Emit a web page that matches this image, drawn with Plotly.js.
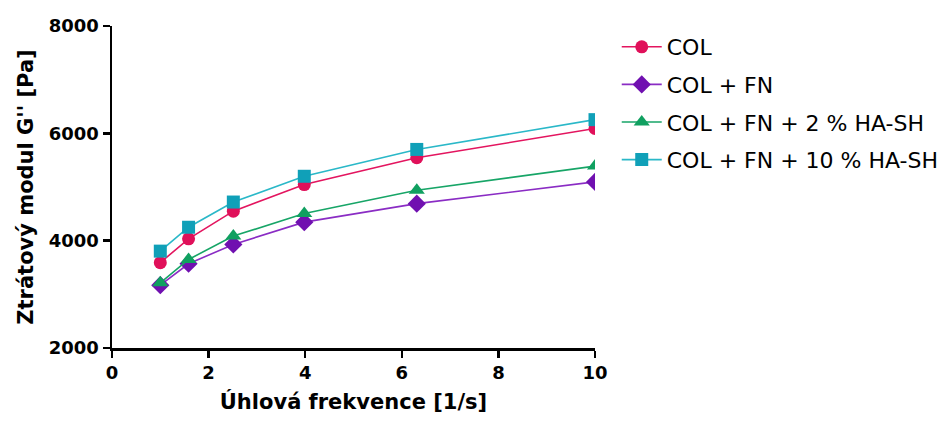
<!DOCTYPE html>
<html>
<head>
<meta charset="utf-8">
<script src="https://cdn.plot.ly/plotly-3.0.1.min.js"></script>
<style>html,body{margin:0;padding:0;background:#fff;}#chart{width:947px;height:421px;}</style>
</head>
<body>
<div id="chart"></div>
<script>
const frequency = [1, 1.585, 2.512, 3.981, 6.31, 10];
const seriesNames = ["COL", "COL + FN", "COL + FN + 2 % HA-SH", "COL + FN + 10 % HA-SH"];
const colValues = [3590, 4035, 4550, 5045, 5545, 6090];
const colFnValues = [3170, 3570, 3930, 4345, 4690, 5095];
const colFn2Values = [3215, 3650, 4085, 4505, 4940, 5390];
const colFn10Values = [3805, 4250, 4720, 5200, 5700, 6255];
const xTicks = [0, 2, 4, 6, 8, 10];
const yTicks = [2000, 4000, 6000, 8000];

const lineColors = ["#e3155f", "#8a2cc4", "#17a567", "#2ab8c8"];
const markerColors = ["#e0105a", "#7010b0", "#10a060", "#10a0b8"];
const symbols = ["circle", "diamond", "triangle-up", "square"];
const sizes = [13, 14, 14, 13];
const values = [colValues, colFnValues, colFn2Values, colFn10Values];

const traces = values.map((v, i) => ({
  x: frequency,
  y: v,
  name: seriesNames[i],
  legendgroup: "g" + i,
  type: "scatter",
  mode: "lines+markers",
  line: {color: lineColors[i], width: 1.6},
  marker: {symbol: symbols[i], size: sizes[i], color: markerColors[i]}
}));

const font = "DejaVu Sans, Liberation Sans, Arial, sans-serif";
const layout = {
  width: 947, height: 421,
  margin: {l: 112, r: 352, t: 26, b: 73, autoexpand: false},
  paper_bgcolor: "#fff", plot_bgcolor: "#fff",
  showlegend: true,
  legend: {x: 1.045, xanchor: "left", y: 1.0, yanchor: "top", itemwidth: 40,
           tracegroupgap: 6, font: {family: font, size: 22, color: "#000"}},
  xaxis: {
    range: [0, 10], tickvals: xTicks, ticktext: xTicks.map(String),
    showline: true, linecolor: "#000", linewidth: 2.5, ticks: "outside", ticklen: 7, tickwidth: 2.5, tickcolor: "#000",
    showgrid: false, zeroline: false,
    tickfont: {family: font, size: 18, color: "#000", weight: "bold"},
    title: {text: "Úhlová frekvence [1/s]", font: {family: font, size: 21, color: "#000", weight: "bold"}, standoff: 12}
  },
  yaxis: {
    range: [2000, 8000], tickvals: yTicks, ticktext: yTicks.map(String),
    showline: true, linecolor: "#000", linewidth: 2.5, ticks: "outside", ticklen: 7, tickwidth: 2.5, tickcolor: "#000",
    showgrid: false, zeroline: false,
    tickfont: {family: font, size: 18, color: "#000", weight: "bold"},
    title: {text: "Ztrátový modul G'' [Pa]", font: {family: font, size: 21, color: "#000", weight: "bold"}, standoff: 10}
  }
};
Plotly.newPlot("chart", traces, layout, {displayModeBar: false, staticPlot: true});
</script>
</body>
</html>
